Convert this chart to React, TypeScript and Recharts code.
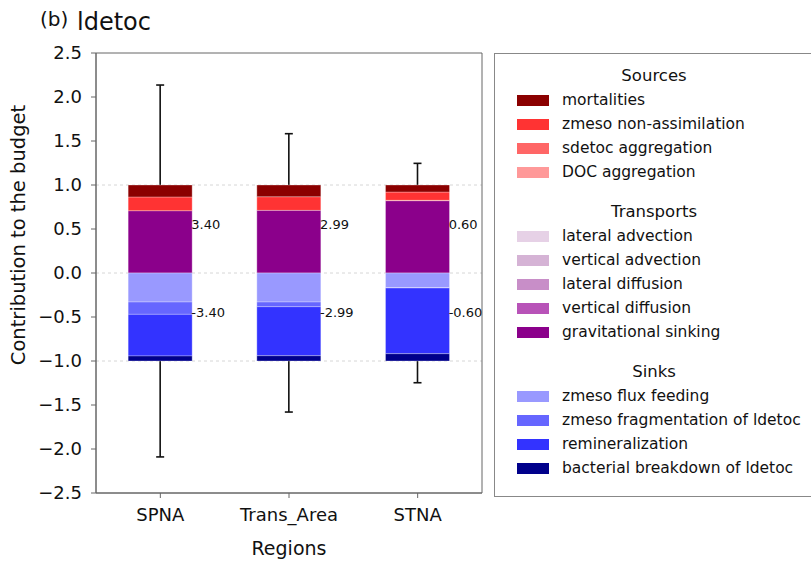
import React from 'react';
import {
  ComposedChart,
  Bar,
  XAxis,
  YAxis,
  ReferenceDot,
  ReferenceLine,
  ReferenceArea,
  Label,
} from 'recharts';

// ---------- data ----------
const categories = ['SPNA', 'Trans_Area', 'STNA'];

// Sources (positive, normalized)
const mortalities = [0.136, 0.133, 0.08];
const zmesoNonAssimilation = [0.156, 0.155, 0.094];
const sdetocAggregation = [0, 0, 0.004];
const docAggregation = [0, 0, 0];

// Transports
const lateralAdvection = [0, 0, 0];
const verticalAdvection = [0, 0, 0];
const lateralDiffusion = [0, 0, 0];
const verticalDiffusion = [0, 0, 0];
const gravitationalSinking = [0.708, 0.712, 0.822];

// Sinks (negative, normalized)
const zmesoFluxFeeding = [-0.33, -0.33, -0.167];
const zmesoFragmentation = [-0.14, -0.053, -0.004];
const remineralization = [-0.473, -0.557, -0.746];
const bacterialBreakdown = [-0.057, -0.06, -0.083];

// Whiskers
const whiskerTop = [2.136, 1.583, 1.246];
const whiskerBottom = [-2.09, -1.58, -1.247];

// Budget totals labels
const budgetPositive = ['3.40', '2.99', '0.60'];
const budgetNegative = ['-3.40', '-2.99', '-0.60'];

const yTicks = [-2.5, -2, -1.5, -1, -0.5, 0, 0.5, 1, 1.5, 2, 2.5];
const gridValues = [-1, 0, 1];
const yDomain: [number, number] = [-2.5, 2.5];

// ---------- series ----------
type Series = { key: string; name: string; color: string; values: number[] };

const sources: Series[] = [
  { key: 'mort', name: 'mortalities', color: '#8b0000', values: mortalities },
  { key: 'zna', name: 'zmeso non-assimilation', color: '#ff3333', values: zmesoNonAssimilation },
  { key: 'sagg', name: 'sdetoc aggregation', color: '#ff6666', values: sdetocAggregation },
  { key: 'dagg', name: 'DOC aggregation', color: '#ff9999', values: docAggregation },
];
const transports: Series[] = [
  { key: 'ladv', name: 'lateral advection', color: '#e6d1e6', values: lateralAdvection },
  { key: 'vadv', name: 'vertical advection', color: '#d5b3d5', values: verticalAdvection },
  { key: 'ldif', name: 'lateral diffusion', color: '#c88ec8', values: lateralDiffusion },
  { key: 'vdif', name: 'vertical diffusion', color: '#b853b8', values: verticalDiffusion },
  { key: 'grav', name: 'gravitational sinking', color: '#8b008b', values: gravitationalSinking },
];
const sinks: Series[] = [
  { key: 'zff', name: 'zmeso flux feeding', color: '#9999ff', values: zmesoFluxFeeding },
  { key: 'zfr', name: 'zmeso fragmentation of ldetoc', color: '#6666ff', values: zmesoFragmentation },
  { key: 'rem', name: 'remineralization', color: '#3333ff', values: remineralization },
  { key: 'bac', name: 'bacterial breakdown of ldetoc', color: '#00008b', values: bacterialBreakdown },
];

// positive stacking order from bottom: transports, then sources reversed
const positiveOrder: Series[] = [...transports, ...[...sources].reverse()];
const negativeOrder: Series[] = sinks;

const data = categories.map((c, i) => {
  const row: Record<string, any> = { region: c };
  [...sources, ...transports, ...sinks].forEach((s) => {
    row[s.key] = s.values[i];
  });
  row.wBasePos = 1;
  row.wUp = whiskerTop[i] - 1;
  row.wBaseNeg = -1;
  row.wDown = whiskerBottom[i] + 1;
  return row;
});

const FONT = "'DejaVu Sans', sans-serif";
const fmt = (v: number) => v.toFixed(1).replace('-', '\u2212');

const WhiskerUp = (props: any) => {
  const { x, y, width, height } = props;
  if (x == null || y == null) return null;
  const cx = x + width / 2;
  const top = Math.min(y, y + height);
  const bot = Math.max(y, y + height);
  return (
    <g>
      <line x1={cx} x2={cx} y1={top} y2={bot} stroke="#111" strokeWidth={1.6} />
      <line x1={cx - 4} x2={cx + 4} y1={top} y2={top} stroke="#111" strokeWidth={1.6} />
    </g>
  );
};
const WhiskerDown = (props: any) => {
  const { x, y, width, height } = props;
  if (x == null || y == null) return null;
  const cx = x + width / 2;
  const top = Math.min(y, y + height);
  const bot = Math.max(y, y + height);
  return (
    <g>
      <line x1={cx} x2={cx} y1={top} y2={bot} stroke="#111" strokeWidth={1.6} />
      <line x1={cx - 4} x2={cx + 4} y1={bot} y2={bot} stroke="#111" strokeWidth={1.6} />
    </g>
  );
};
const NoShape = () => null;

const makeValueLabel = (text: string) => (p: any) => {
  const vb = p.viewBox || {};
  const cx = (vb.x ?? 0) + (vb.width ?? 0) / 2;
  const cy = (vb.y ?? 0) + (vb.height ?? 0) / 2;
  return (
    <text x={cx + 31} y={cy} dominantBaseline="central" fontSize={13} fontFamily={FONT} fill="#111">
      {text}
    </text>
  );
};

// ---------- legend ----------
const LegendBox = () => {
  const groups = [
    { title: 'Sources', items: sources },
    { title: 'Transports', items: transports },
    { title: 'Sinks', items: sinks },
  ];
  const rows: React.ReactNode[] = [];
  let y = 75 - 53;
  groups.forEach((g, gi) => {
    if (gi > 0) y += 40.3;
    rows.push(
      <div
        key={'t' + gi}
        style={{
          position: 'absolute',
          left: 0,
          width: 318,
          top: y - 10,
          height: 20,
          lineHeight: '20px',
          textAlign: 'center',
          fontSize: 16.5,
          color: '#111',
        }}
      >
        {g.title}
      </div>
    );
    g.items.forEach((s, si) => {
      y += si === 0 ? 24.3 : 23.8;
      rows.push(
        <div key={s.key} style={{ position: 'absolute', left: 0, top: y - 10, height: 20, width: 318 }}>
          <div
            style={{
              position: 'absolute',
              left: 22,
              top: 5,
              width: 32,
              height: 11,
              background: s.color,
            }}
          />
          <div
            style={{
              position: 'absolute',
              left: 67,
              top: 0,
              lineHeight: '20px',
              fontSize: 15.5,
              color: '#111',
              whiteSpace: 'nowrap',
            }}
          >
            {s.name}
          </div>
        </div>
      );
    });
  });
  return (
    <div
      style={{
        position: 'absolute',
        left: 494,
        top: 53,
        width: 318,
        height: 444,
        border: '1px solid #888',
        boxSizing: 'border-box',
        fontFamily: FONT,
        background: '#fff',
      }}
    >
      {rows}
    </div>
  );
};

export default function App() {
  return (
    <div
      style={{
        position: 'absolute',
        left: 0,
        top: 0,
        width: 811,
        height: 564,
        overflow: 'hidden',
        background: '#fff',
        fontFamily: FONT,
      }}
    >
      <div style={{ position: 'absolute', left: 40, top: 6, fontSize: 20, color: '#111', lineHeight: '26px' }}>
        (b)
      </div>
      <div style={{ position: 'absolute', left: 77, top: 7, fontSize: 24, color: '#111', lineHeight: '30px' }}>
        ldetoc
      </div>
      <div style={{ position: 'absolute', left: 0, top: 0 }}>
        <ComposedChart
          width={811}
          height={564}
          data={data}
          stackOffset="sign"
          barCategoryGap="25%"
          margin={{ top: 53, right: 329, bottom: 0, left: 0 }}
        >
          <XAxis
            dataKey="region"
            xAxisId="main"
            height={71}
            tickSize={5}
            tickMargin={10}
            stroke="#666"
            tick={{ fill: '#111', fontSize: 18, fontFamily: FONT }}
            tickLine={{ stroke: '#666' }}
            axisLine={{ stroke: '#666' }}
          >
            <Label
              value="Regions"
              position="insideBottom"
              offset={9}
              style={{ fill: '#111', fontSize: 19, fontFamily: FONT }}
            />
          </XAxis>
          <XAxis dataKey="region" xAxisId="top" hide />
          <YAxis
            yAxisId="left"
            type="number"
            domain={yDomain}
            ticks={yTicks}
            interval={0}
            allowDataOverflow
            width={96}
            tickSize={5}
            tickMargin={9}
            tickFormatter={fmt}
            tick={{ fill: '#111', fontSize: 18, fontFamily: FONT }}
            tickLine={{ stroke: '#666' }}
            axisLine={{ stroke: '#666' }}
          >
            <Label
              content={(p: any) => {
                const vb = p.viewBox || {};
                const cy = (vb.y ?? 0) + (vb.height ?? 0) / 2 - 38;
                return (
                  <text
                    x={18}
                    y={cy}
                    transform={`rotate(-90, 18, ${cy})`}
                    textAnchor="middle"
                    dominantBaseline="central"
                    fontSize={19.5}
                    fontFamily={FONT}
                    fill="#111"
                  >
                    Contribution to the budget
                  </text>
                );
              }}
            />
          </YAxis>

          {gridValues.map((v) => (
            <ReferenceLine
              key={'g' + v}
              xAxisId="main"
              yAxisId="left"
              y={v}
              stroke="#cccccc"
              strokeDasharray="3 3"
              strokeWidth={0.8}
              {...({ zIndex: 100 } as any)}
            />
          ))}

          {/* whiskers on hidden second axis */}
          <Bar xAxisId="top" yAxisId="left" dataKey="wBasePos" stackId="w" shape={NoShape} isAnimationActive={false} legendType="none" />
          <Bar xAxisId="top" yAxisId="left" dataKey="wUp" stackId="w" shape={WhiskerUp} isAnimationActive={false} legendType="none" />
          <Bar xAxisId="top" yAxisId="left" dataKey="wBaseNeg" stackId="w" shape={NoShape} isAnimationActive={false} legendType="none" />
          <Bar xAxisId="top" yAxisId="left" dataKey="wDown" stackId="w" shape={WhiskerDown} isAnimationActive={false} legendType="none" />

          {positiveOrder.map((s) => (
            <Bar
              key={s.key}
              xAxisId="main"
              yAxisId="left"
              dataKey={s.key}
              name={s.name}
              stackId="budget"
              fill={s.color}
              stroke="#ffffff"
              strokeOpacity={0.5}
              strokeWidth={0.6}
              isAnimationActive={false}
            />
          ))}
          {negativeOrder.map((s) => (
            <Bar
              key={s.key}
              xAxisId="main"
              yAxisId="left"
              dataKey={s.key}
              name={s.name}
              stackId="budget"
              fill={s.color}
              stroke="#ffffff"
              strokeOpacity={0.5}
              strokeWidth={0.6}
              isAnimationActive={false}
            />
          ))}

          {categories.map((c, i) => (
            <ReferenceDot
              key={'lp' + c}
              xAxisId="main"
              yAxisId="left"
              x={c}
              y={0.55}
              r={1}
              fill="none"
              stroke="none"
              label={{ content: makeValueLabel(budgetPositive[i]) } as any}
            />
          ))}
          {categories.map((c, i) => (
            <ReferenceDot
              key={'ln' + c}
              xAxisId="main"
              yAxisId="left"
              x={c}
              y={-0.45}
              r={1}
              fill="none"
              stroke="none"
              label={{ content: makeValueLabel(budgetNegative[i]) } as any}
            />
          ))}

          {/* plot frame */}
          <ReferenceArea
            xAxisId="main"
            yAxisId="left"
            y1={yDomain[0]}
            y2={yDomain[1]}
            fill="none"
            fillOpacity={0}
            stroke="#666"
            strokeWidth={1}
          />
        </ComposedChart>
      </div>
      <LegendBox />
    </div>
  );
}
